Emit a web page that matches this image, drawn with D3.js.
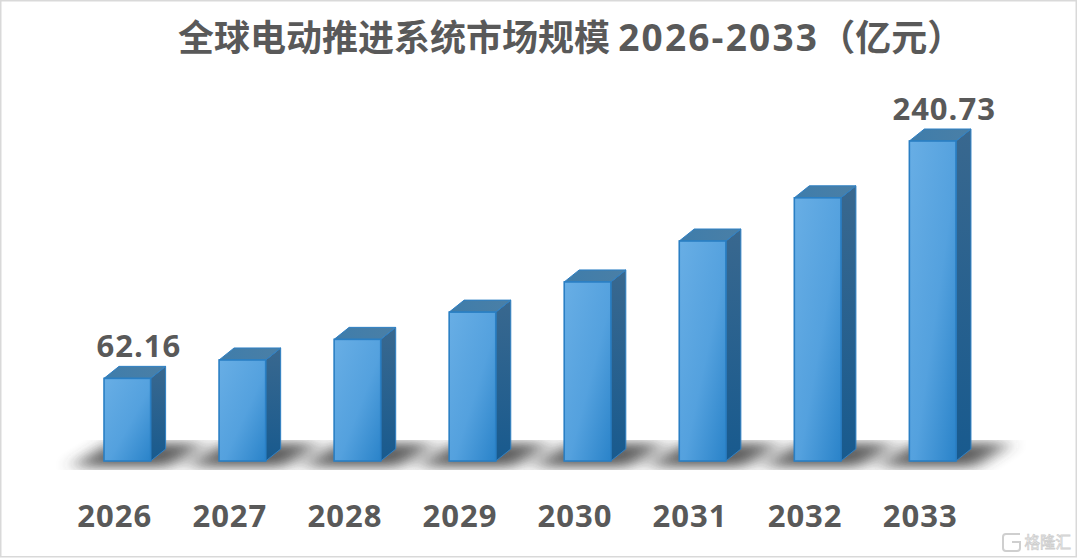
<!DOCTYPE html>
<html><head><meta charset="utf-8">
<script src="https://cdn.jsdelivr.net/npm/d3@7/dist/d3.min.js"></script>
<style>html,body{margin:0;padding:0;background:#fff;overflow:hidden}svg{display:block}</style>
</head><body><svg id="c" width="1077" height="558"></svg>
<script>
const years = ["2026","2027","2028","2029","2030","2031","2032","2033"];
const values = [62.16,76,91.5,112,134.7,165.5,198,240.73];
const shownLabels = {"2026":"62.16","2033":"240.73"};
const titleParts = ["全球电动推进系统市场规模 ","2026-2033","（亿元）"];

const W=1077,H=558,base=461,dx=15,dy=12,bw=46.6;
const svg=d3.select("#c");
const sans="'Open Sans','Noto Sans CJK SC',sans-serif";
const cjk="'Noto Sans CJK SC','Open Sans',sans-serif";
const x=d3.scaleBand().domain(years).range([70,990]).paddingInner(0.5948).paddingOuter(0.2957);
const y=d3.scaleLinear().domain([0,240.73]).range([base,141]);
const defs=svg.append("defs");
const lg=(id,x1,y1,x2,y2,stops)=>{const g=defs.append("linearGradient").attr("id",id)
  .attr("x1",x1).attr("y1",y1).attr("x2",x2).attr("y2",y2);
  stops.forEach(s=>g.append("stop").attr("offset",s[0]).attr("stop-color",s[1]));};
lg("front",0,0,1,1,[[0,"#68aee5"],[0.55,"#54a1de"],[1,"#2a83c9"]]);
lg("side",0,0,0,1,[[0,"#39688f"],[1,"#185a8e"]]);
lg("top",0,0,1,0,[[0,"#3f7dab"],[1,"#4a7fa6"]]);
const fl=defs.append("filter").attr("id","blur").attr("x","-30%").attr("y","-60%").attr("width","160%").attr("height","220%");
fl.append("feGaussianBlur").attr("stdDeviation","10 6");
defs.append("clipPath").attr("id","floor").append("path").attr("d","M0 440H1077V470H0Z");

svg.append("rect").attr("x",0).attr("y",0).attr("width",W).attr("height",H).attr("fill","#fff");
svg.append("rect").attr("x",0.75).attr("y",0.75).attr("width",W-1.5).attr("height",H-2).attr("fill","none").attr("stroke","#d9d9d9").attr("stroke-width",1.5);

// floor shadows
const sh=svg.append("g").attr("clip-path","url(#floor)").append("g").attr("filter","url(#blur)").attr("opacity",0.8);
sh.selectAll("polygon").data(years).join("polygon")
  .attr("fill","#383838")
  .attr("points",d=>{const l=x(d);return [[l-32,467],[l+bw+18,467],[l+bw+54,443],[l+6,443]].join(" ");});

// bars
const g=svg.append("g").selectAll("g").data(years).join("g");
const val=d=>values[years.indexOf(d)];
g.append("polygon").attr("fill","url(#side)").attr("stroke","#2f80c4").attr("stroke-width",1)
  .attr("points",d=>{const r=x(d)+bw,t=y(val(d));return [[r,t],[r+dx,t-dy],[r+dx,base-dy],[r,base]].join(" ");});
g.append("polygon").attr("fill","url(#top)").attr("stroke","#2f80c4").attr("stroke-width",1)
  .attr("points",d=>{const l=x(d),t=y(val(d));return [[l,t],[l+bw,t],[l+bw+dx,t-dy],[l+dx,t-dy]].join(" ");});
g.append("rect").attr("fill","url(#front)").attr("stroke","#2a7fc4").attr("stroke-width",1.6)
  .attr("x",d=>x(d)).attr("y",d=>y(val(d))).attr("width",bw).attr("height",d=>base-y(val(d)));

// value labels
svg.append("g").selectAll("text").data(years.filter(d=>shownLabels[d])).join("text")
  .attr("x",d=>x(d)+bw/2+11.5).attr("y",d=>y(val(d))-21).attr("text-anchor","middle")
  .attr("font-family",sans).attr("font-weight",700).attr("font-size",31).attr("letter-spacing",1).attr("fill","#595959")
  .text(d=>shownLabels[d]);

// category labels
svg.append("g").selectAll("text").data(years).join("text")
  .attr("x",d=>x(d)+bw/2-12.5).attr("y",527).attr("text-anchor","middle")
  .attr("font-family",sans).attr("font-weight",700).attr("font-size",31).attr("letter-spacing",1).attr("fill","#595959")
  .text(d=>d);

// title
const t=svg.append("text").attr("x",178).attr("y",51).attr("xml:space","preserve").attr("fill","#595959").attr("font-weight",700);
t.append("tspan").attr("font-family",cjk).attr("font-size",36).text(titleParts[0]);
t.append("tspan").attr("font-family",sans).attr("font-size",37).attr("letter-spacing",2.2).text(titleParts[1]);
t.append("tspan").attr("font-family",cjk).attr("font-size",36).text(titleParts[2]);

// watermark
svg.append("text").attr("x",1071).attr("y",548).attr("text-anchor","end")
  .attr("font-family","'Noto Sans CJK SC',sans-serif").attr("font-size",15.5).attr("fill","#fff").attr("stroke","#cfcfcf").attr("stroke-width",0.8)
  .text("格隆汇");
svg.append("path").attr("d","M1020 534H1006Q1003 534 1003 537V548Q1003 551 1006 551H1017Q1020 551 1020 548V542H1012")
  .attr("fill","none").attr("stroke","#cfcfcf").attr("stroke-width",2);
</script></body></html>
